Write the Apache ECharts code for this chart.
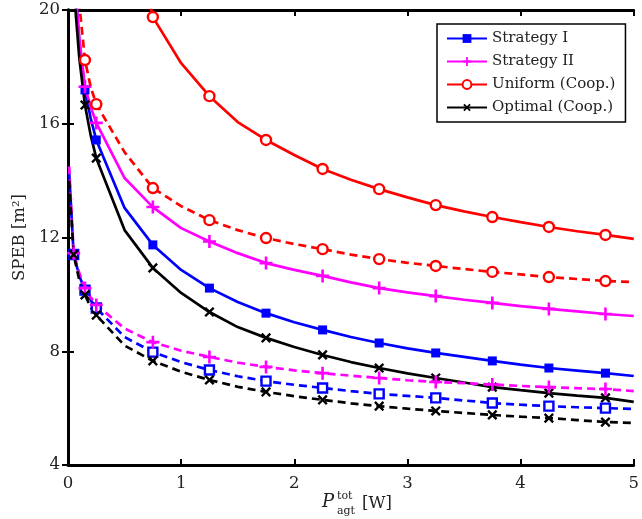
<!DOCTYPE html>
<html>
<head>
<meta charset="utf-8">
<script src="https://cdn.jsdelivr.net/npm/echarts@6/dist/echarts.min.js"></script>
<style>html,body{margin:0;padding:0;background:#fff}#c{width:642px;height:519px}</style>
</head>
<body>
<div id="c"></div>
<script>
// x samples (W)
const xs = [0.01, 0.05, 0.1, 0.15, 0.2, 0.25, 0.5, 0.75, 1.0, 1.25, 1.5, 1.75, 2.0, 2.25, 2.5, 2.75, 3.0, 3.25, 3.5, 3.75, 4.0, 4.25, 4.5, 4.75, 5.0];
// x values that carry a marker
const markerX = [0.05, 0.15, 0.25, 0.75, 1.25, 1.75, 2.25, 2.75, 3.25, 3.75, 4.25, 4.75];
const xTicks = [0, 1, 2, 3, 4, 5];
const yTicks = [4, 8, 12, 16, 20];

// Solid curves
const strategyI   = [40, 21.5, 18.9, 17.19, 16.2, 15.43, 13.04, 11.74, 10.86, 10.22, 9.73, 9.34, 9.02, 8.75, 8.5, 8.29, 8.1, 7.94, 7.8, 7.66, 7.53, 7.41, 7.32, 7.23, 7.13];
const strategyII  = [40, 21.5, 19.0, 17.3, 16.6, 16.03, 14.09, 13.07, 12.33, 11.86, 11.45, 11.1, 10.86, 10.65, 10.42, 10.22, 10.07, 9.94, 9.81, 9.7, 9.59, 9.49, 9.4, 9.31, 9.24];
const uniformC    = [150, 90, 60, 48, 40, 35, 24.5, 19.75, 18.13, 16.97, 16.06, 15.43, 14.9, 14.41, 14.03, 13.7, 13.41, 13.14, 12.92, 12.72, 12.54, 12.37, 12.22, 12.09, 11.95];
const optimalC    = [40, 20.8, 18.3, 16.66, 15.6, 14.79, 12.26, 10.93, 10.05, 9.38, 8.85, 8.47, 8.15, 7.87, 7.62, 7.41, 7.22, 7.06, 6.9, 6.74, 6.63, 6.53, 6.44, 6.36, 6.22];
// Dashed curves
const strategyI_d  = [14.3, 11.4, 10.65, 10.15, 9.8, 9.52, 8.5, 7.97, 7.62, 7.34, 7.12, 6.95, 6.82, 6.71, 6.6, 6.5, 6.43, 6.36, 6.27, 6.18, 6.12, 6.07, 6.03, 6.0, 5.97];
const strategyII_d = [14.5, 11.45, 10.75, 10.22, 9.9, 9.63, 8.8, 8.32, 8.02, 7.8, 7.6, 7.45, 7.33, 7.23, 7.14, 7.06, 6.98, 6.92, 6.88, 6.83, 6.78, 6.74, 6.7, 6.67, 6.6];
const uniformC_d   = [45, 24, 20.2, 18.24, 17.3, 16.69, 15.0, 13.74, 13.1, 12.61, 12.26, 11.98, 11.77, 11.59, 11.4, 11.24, 11.11, 11.0, 10.89, 10.79, 10.7, 10.61, 10.54, 10.47, 10.43];
const optimalC_d   = [14.0, 11.4, 10.5, 9.98, 9.55, 9.27, 8.2, 7.66, 7.28, 6.99, 6.75, 6.57, 6.42, 6.29, 6.17, 6.07, 5.98, 5.9, 5.83, 5.76, 5.7, 5.65, 5.58, 5.51, 5.48];

const names = ['Strategy I', 'Strategy II', 'Uniform (Coop.)', 'Optimal (Coop.)'];

const FONT = 'DejaVu Serif';
const plusPath = 'path://M4,0H6V4H10V6H6V10H4V6H0V4H4Z';

function build(vals) {
  return xs.map((x, i) => markerX.indexOf(x) >= 0 ? { value: [x, vals[i]] } : { value: [x, vals[i]], symbol: 'none' });
}

const styles = [
  { color: '#0000ff', symbol: 'rect', size: 9, rot: 0, hollowDashed: true, hollowSolid: false },
  { color: '#ff00ff', symbol: plusPath, size: 13, rot: 0, hollowDashed: false, hollowSolid: false },
  { color: '#ff0000', symbol: 'circle', size: 10, rot: 0, hollowDashed: true, hollowSolid: true },
  { color: '#000000', symbol: plusPath, size: 12, rot: 45, hollowDashed: false, hollowSolid: false }
];
const solid = [strategyI, strategyII, uniformC, optimalC];
const dashed = [strategyI_d, strategyII_d, uniformC_d, optimalC_d];

const series = [];
function mk(name, vals, st, isDashed) {
  const hollow = isDashed ? st.hollowDashed : st.hollowSolid;
  return {
    name: name,
    type: 'line',
    data: build(vals),
    symbol: st.symbol,
    symbolSize: st.size,
    symbolRotate: st.rot,
    showAllSymbol: true,
    clip: true,
    z: isDashed ? 3 : 2,
    lineStyle: { color: st.color, width: 2.7, type: isDashed ? [8, 5] : 'solid' },
    itemStyle: hollow ? { color: '#ffffff', borderColor: st.color, borderWidth: 2.4 } : { color: st.color, borderWidth: 0 },
    emphasis: { disabled: true },
    animation: false
  };
}
solid.forEach((v, i) => series.push(mk(names[i], v, styles[i], false)));
dashed.forEach((v, i) => series.push(mk(names[i] + ' ', v, styles[i], true)));

const axisText = { fontFamily: FONT, fontSize: 16.5, color: '#222' };
const chart = echarts.init(document.getElementById('c'), null, { renderer: 'canvas' });
chart.setOption({
  animation: false,
  backgroundColor: '#ffffff',
  grid: { left: 68, right: 2, top: 10, bottom: 54 },
  xAxis: [
    { type: 'value', min: xTicks[0], max: xTicks[xTicks.length - 1], interval: 1, position: 'bottom',
      axisLine: { lineStyle: { color: '#000', width: 2.8 } },
      axisTick: { inside: true, length: 6, lineStyle: { color: '#000', width: 2 } },
      axisLabel: Object.assign({ margin: 10, showMinLabel: true, showMaxLabel: true }, axisText),
      splitLine: { show: false } },
    { type: 'value', min: xTicks[0], max: xTicks[xTicks.length - 1], interval: 1, position: 'top',
      axisLine: { lineStyle: { color: '#000', width: 2.8 } },
      axisTick: { inside: true, length: 6, lineStyle: { color: '#000', width: 2 } },
      axisLabel: { show: false }, splitLine: { show: false } }
  ],
  yAxis: [
    { type: 'value', min: yTicks[0], max: yTicks[yTicks.length - 1], interval: 4, position: 'left',
      name: 'SPEB [m²]', nameLocation: 'middle', nameGap: 31, nameRotate: 90,
      nameTextStyle: { fontFamily: FONT, fontSize: 16.5, color: '#222' },
      axisLine: { lineStyle: { color: '#000', width: 2.8 } },
      axisTick: { inside: true, length: 6, lineStyle: { color: '#000', width: 2 } },
      axisLabel: Object.assign({ margin: 8 }, axisText),
      splitLine: { show: false } },
    { type: 'value', min: yTicks[0], max: yTicks[yTicks.length - 1], interval: 4, position: 'right',
      axisLine: { lineStyle: { color: '#000', width: 2.8 } },
      axisTick: { inside: true, length: 6, lineStyle: { color: '#000', width: 2 } },
      axisLabel: { show: false }, splitLine: { show: false } }
  ],
  legend: {
    data: names,
    orient: 'vertical',
    left: 437, top: 24,
    itemWidth: 40, itemHeight: 11, itemGap: 8,
    padding: [7, 10, 7, 9],
    backgroundColor: '#fff',
    borderColor: '#000', borderWidth: 1.5,
    textStyle: { fontFamily: FONT, fontSize: 15, color: '#222' },
    selectedMode: false
  },
  graphic: [
    { type: 'text', left: 322, top: 493, style: { text: 'P', fontFamily: FONT, fontStyle: 'italic', fontSize: 18, fill: '#222' } },
    { type: 'text', left: 337, top: 491, style: { text: 'tot', fontFamily: FONT, fontSize: 11, fill: '#222' } },
    { type: 'text', left: 337, top: 506, style: { text: 'agt', fontFamily: FONT, fontSize: 11, fill: '#222' } },
    { type: 'text', left: 362, top: 495, style: { text: '[W]', fontFamily: FONT, fontSize: 16.5, fill: '#222' } }
  ],
  series: series
});
</script>
</body>
</html>
